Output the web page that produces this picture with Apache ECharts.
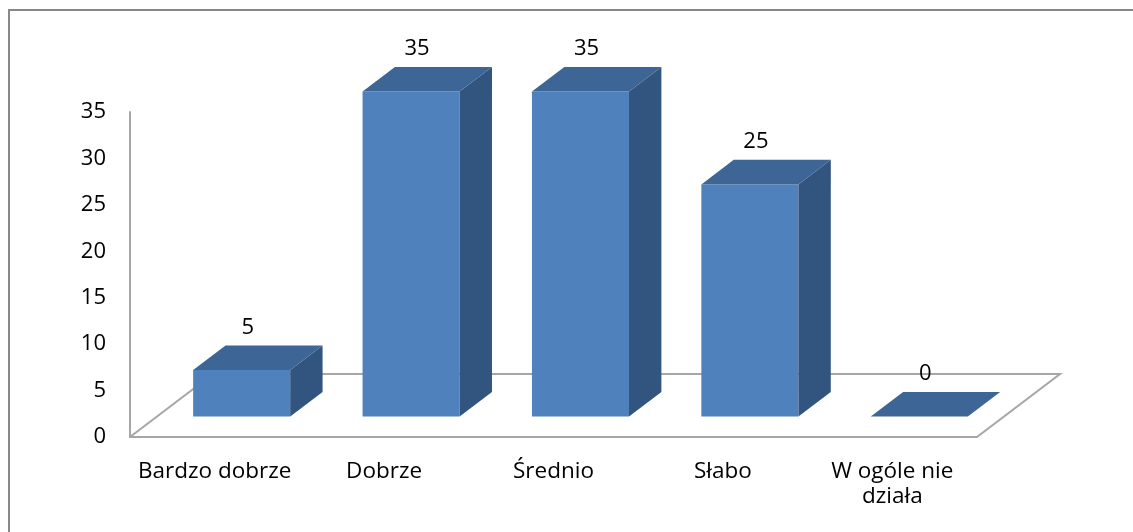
<!DOCTYPE html>
<html>
<head>
<meta charset="utf-8">
<script src="https://cdn.jsdelivr.net/npm/echarts@6/dist/echarts.min.js"></script>
<style>
  html, body { margin: 0; padding: 0; background: #ffffff; }
  #chart { width: 1133px; height: 532px; }
</style>
</head>
<body>
<div id="chart"></div>
<script>
const categories = ['Bardzo dobrze', 'Dobrze', 'Średnio', 'Słabo', 'W ogóle nie\ndziała'];
const values = [5, 35, 35, 25, 0];
const yMin = 0;
const yMax = 35;
const yStep = 5;

const FONT = 'Open Sans';
const FRONT = '#4F81BD';
const TOP = '#3D6596';
const SIDE = '#32557F';
const FLOOR = '#A6A6A6';

// 3D projection factors (relative to category band width)
const DEPTH_DX = 0.49;   // floor depth, x
const DEPTH_DY = -0.372; // floor depth, y
const FRONT_F = 0.325;   // bar front position inside floor depth
const BACK_F = 0.715;    // bar back position inside floor depth
const BAR_W = 0.573;     // bar width

const chart = echarts.init(document.getElementById('chart'), null, { renderer: 'canvas' });

function floorRender(params, api) {
  const band = api.size([1, 0])[0];
  const p0 = api.coord([0, 0]);
  const p1 = api.coord([categories.length - 1, 0]);
  const xl = p0[0] - band / 2;
  const xr = p1[0] + band / 2;
  const y = p0[1];
  const dx = band * DEPTH_DX, dy = band * DEPTH_DY;
  return {
    type: 'polyline',
    shape: { points: [[xl, y], [xl + dx, y + dy], [xr + dx, y + dy], [xr, y]] },
    style: { stroke: FLOOR, lineWidth: 2, fill: null },
    silent: true
  };
}

function barRender(params, api) {
  const idx = api.value(0);
  const val = api.value(1);
  const band = api.size([1, 0])[0];
  const base = api.coord([idx, 0]);
  const top = api.coord([idx, val]);
  const w = band * BAR_W;
  const fdx = band * DEPTH_DX * FRONT_F, fdy = band * DEPTH_DY * FRONT_F;
  const bdx = band * DEPTH_DX * BACK_F, bdy = band * DEPTH_DY * BACK_F;
  const x0 = base[0] - w / 2 + fdx;
  const x1 = base[0] + w / 2 + fdx;
  const yb = base[1] + fdy;
  const yt = top[1] + fdy;
  const ddx = bdx - fdx, ddy = bdy - fdy;
  const children = [];
  if (yb - yt > 0.5) {
    children.push({
      type: 'polygon',
      shape: { points: [[x0, yb], [x0, yt], [x1, yt], [x1, yb]] },
      style: { fill: FRONT }
    });
    children.push({
      type: 'polygon',
      shape: { points: [[x1, yt], [x1 + ddx, yt + ddy], [x1 + ddx, yb + ddy], [x1, yb]] },
      style: { fill: SIDE }
    });
  }
  children.push({
    type: 'polygon',
    shape: { points: [[x0, yt], [x0 + ddx, yt + ddy], [x1 + ddx, yt + ddy], [x1, yt]] },
    style: { fill: TOP }
  });
  children.push({
    type: 'text',
    style: {
      text: String(val),
      x: base[0] + fdx + 6,
      y: yt + ddy - 18,
      align: 'center',
      verticalAlign: 'middle',
      font: '22px "' + FONT + '"',
      fill: '#000000'
    }
  });
  return { type: 'group', children: children };
}

const option = {
  backgroundColor: '#ffffff',
  animation: false,
  graphic: [{
    type: 'rect',
    shape: { x: 9, y: 10, width: 1300, height: 700 },
    style: { fill: null, stroke: '#888888', lineWidth: 2 },
    silent: true,
    z: 100
  }],
  grid: { left: 130, right: 156, top: 112, bottom: 95, containLabel: false },
  xAxis: {
    type: 'category',
    data: categories,
    axisLine: { show: true, lineStyle: { color: FLOOR, width: 2 } },
    axisTick: { show: false },
    axisLabel: {
      color: '#000000', fontFamily: FONT, fontSize: 22.5, lineHeight: 25,
      margin: 22, interval: 0
    },
    splitLine: { show: false }
  },
  yAxis: {
    type: 'value',
    min: yMin, max: yMax, interval: yStep,
    axisLine: { show: true, lineStyle: { color: FLOOR, width: 2 } },
    axisTick: { show: false },
    splitLine: { show: false },
    axisLabel: { color: '#000000', fontFamily: FONT, fontSize: 22, margin: 24 }
  },
  series: [
    {
      type: 'custom',
      renderItem: floorRender,
      data: [[0, 0]],
      z: 1,
      silent: true
    },
    {
      type: 'custom',
      renderItem: barRender,
      data: values.map((v, i) => [i, v]),
      z: 5,
      silent: true
    }
  ]
};
chart.setOption(option);
</script>
</body>
</html>
